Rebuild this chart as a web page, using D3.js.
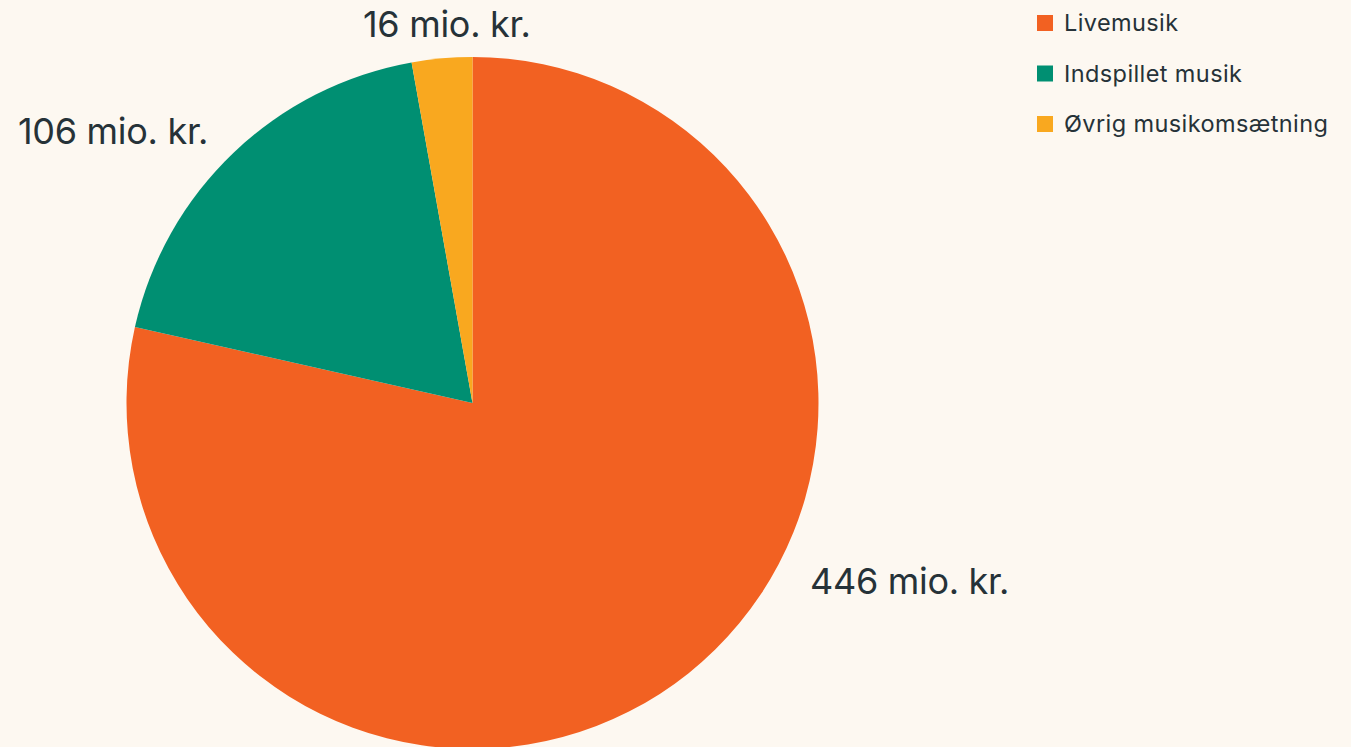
<!DOCTYPE html>
<html>
<head>
<meta charset="utf-8">
<script src="https://cdn.jsdelivr.net/npm/d3@7"></script>
<style>
  html, body { margin: 0; padding: 0; background: #fdf8f1; }
  svg { display: block; }
  text { font-family: "Inter", "Lato", sans-serif; fill: #263238; }
</style>
</head>
<body>
<div id="chart"></div>
<script>
// data
let categories = ["Livemusik", "Indspillet musik", "Øvrig musikomsætning"];
let values = [446, 106, 16];
let labels = ["446 mio. kr.", "106 mio. kr.", "16 mio. kr."];
let colors = ["#f26122", "#008f72", "#f9a81f"];

let width = 1351;
let height = 747;
let cx = 472.5, cy = 403, radius = 346;

let svg = d3.select("#chart").append("svg")
  .attr("width", width).attr("height", height);

let pie = d3.pie().sort(null).value(d => d);
let arcs = pie(values);
let arc = d3.arc().innerRadius(0).outerRadius(radius);

let g = svg.append("g").attr("transform", `translate(${cx},${cy})`);

g.selectAll("path")
  .data(arcs).enter()
  .append("path")
  .attr("d", arc)
  .attr("fill", (d, i) => colors[i]);

// data labels, placed next to each slice (left x, baseline y)
let labelPos = [
  {x: 810, y: 594},
  {x: 18, y: 144},
  {x: 363, y: 37}
];

svg.append("g").selectAll("text")
  .data(arcs).enter()
  .append("text")
  .attr("x", (d, i) => labelPos[i].x)
  .attr("y", (d, i) => labelPos[i].y)
  .style("font-size", "36px")
  .style("letter-spacing", "-0.3px")
  .text((d, i) => labels[i]);

// legend
let legend = svg.append("g").attr("transform", "translate(1037,15)");
let items = legend.selectAll("g")
  .data(categories).enter()
  .append("g")
  .attr("transform", (d, i) => `translate(0,${i * 50.5})`);

items.append("rect")
  .attr("width", 16).attr("height", 16)
  .attr("fill", (d, i) => colors[i]);

items.append("text")
  .attr("x", 27).attr("y", 16)
  .style("font-size", "23.5px")
  .style("letter-spacing", "0.4px")
  .text(d => d);
</script>
</body>
</html>
